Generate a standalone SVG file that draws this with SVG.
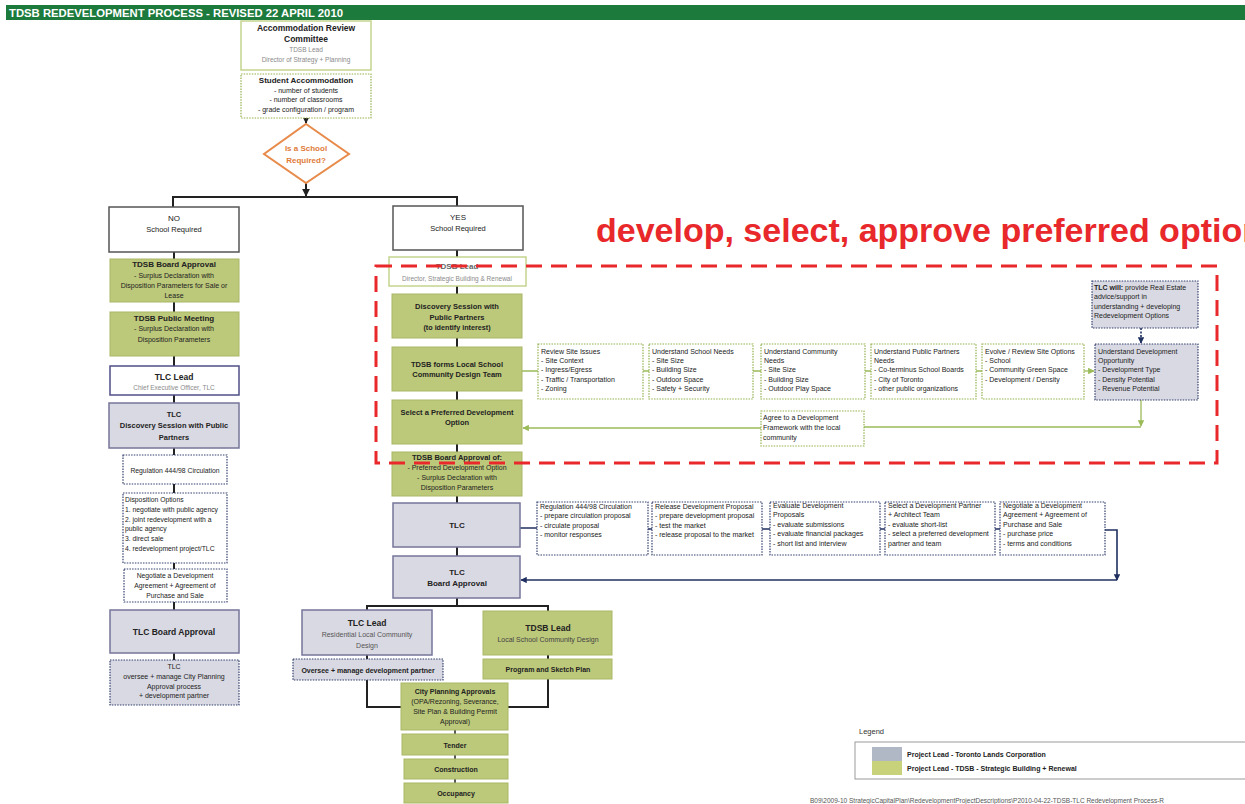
<svg xmlns="http://www.w3.org/2000/svg" width="1245" height="804" viewBox="0 0 1245 804">
<defs>
<style>
text{font-family:"Liberation Sans",Arial,sans-serif;fill:#222;font-size:7px}
.c{text-anchor:middle}
.b{font-weight:bold}
.g{fill:#8a8a8a}
.s8{font-size:8px}
.s85{font-size:8.5px}
.s65{font-size:6.5px}
.gf{fill:#bcc87a;stroke:#a9b866;stroke-width:1}
.gw{fill:#fff;stroke:#c3d58f;stroke-width:1.5}
.gd{fill:#fff;stroke:#93b14c;stroke-width:1.2;stroke-dasharray:1.5 1.2}
.tf{fill:#d9d9e3;stroke:#76769a;stroke-width:1.5}
.tw{fill:#fff;stroke:#4f4f88;stroke-width:1.5}
.td{fill:#fff;stroke:#34406e;stroke-width:1.2;stroke-dasharray:1.5 1.2}
.tdf{fill:#d9d9e3;stroke:#34406e;stroke-width:1.2;stroke-dasharray:1.5 1.2}
.wb{fill:#fff;stroke:#555;stroke-width:1.5}
.k{fill:none;stroke:#222;stroke-width:2}
.gl{fill:none;stroke:#9bbb59;stroke-width:1.3}
.bl{fill:none;stroke:#1f2f5f;stroke-width:1.6}
</style>
<marker id="ak" viewBox="0 0 10 10" refX="9" refY="5" markerWidth="4" markerHeight="4" orient="auto"><path d="M0,0L10,5L0,10z" fill="#222"/></marker>
<marker id="ag" viewBox="0 0 10 10" refX="9" refY="5" markerWidth="5" markerHeight="5" orient="auto"><path d="M0,0L10,5L0,10z" fill="#9bbb59"/></marker>
<marker id="ab" viewBox="0 0 10 10" refX="9" refY="5" markerWidth="4" markerHeight="4" orient="auto"><path d="M0,0L10,5L0,10z" fill="#1f2f5f"/></marker>
</defs>
<rect width="1245" height="804" fill="#fff"/>
<g id="title">
<rect x="6" y="5" width="1239" height="15" fill="#1d7a3d"/>
<text x="9" y="17" class="b" style="font-size:11.3px;fill:#fff">TDSB REDEVELOPMENT PROCESS - REVISED 22 APRIL 2010</text>
</g>
<g id="connectors">
<path class="k" d="M306,118V123" marker-end="url(#ak)"/>
<path class="k" d="M306,183V196" marker-end="url(#ak)"/>
<path class="k" d="M173,207V197H457V206"/>
<path class="k" d="M174,252V259M174,302V312M174,356V366M174,395V403M174,448V455M174,484V493M174,563V569M174,602V610M174,653V660"/>
<path class="k" d="M457,250V257M457,286V294M457,338V347M457,391V400M457,444V452M457,496V503M457,547V556M457,598V606M367,610V606H548V611"/>
<path class="k" d="M367,655V659M548,655V659M367,680V707H401M548,679V707H508"/>
<path class="k" d="M455,730V734M455,755V759M455,779V783" style="stroke-width:1.5"/>
<path class="gl" d="M522,371H538M643,371H649M753,371H761M865,371H871M976,371H982"/>
<path class="gl" d="M1084,371H1094" marker-end="url(#ag)"/>
<path class="gl" d="M1141,400V426" marker-end="url(#ag)"/>
<path class="gl" d="M864,427H1141"/>
<path class="gl" d="M761,428H523" marker-end="url(#ag)"/>
<path class="bl" d="M1141,328V343" style="stroke-dasharray:2 1.5" marker-end="url(#ab)"/>
<path class="bl" d="M520,528H537M648,529H652M762,529H770M880,529H885M995,529H1000"/>
<path class="bl" d="M1105,530H1117V580" marker-end="url(#ab)"/>
<path class="bl" d="M1117,580H521" marker-end="url(#ab)"/>
</g>
<g id="n_arc"><rect class="gw" x="241" y="21" width="130" height="49"/>
<text class="c b s85" x="306" y="31">Accommodation Review</text><text class="c b s85" x="306" y="42">Committee</text>
<text class="c g s65" x="306" y="52">TDSB Lead</text><text class="c g s65" x="306" y="62">Director of Strategy + Planning</text></g>
<g id="n_student"><rect class="gd" x="241" y="74" width="130" height="44"/>
<text class="c b s8" x="306" y="83">Student Accommodation</text><text class="c" x="306" y="92.5">- number of students</text>
<text class="c" x="306" y="102">- number of classrooms</text><text class="c" x="306" y="111.5">- grade configuration / program</text></g>
<g id="n_decision"><polygon points="306,124 349,154 306,183 264,154" fill="#fff" stroke="#e88a4a" stroke-width="2"/>
<text class="c b s8" x="306" y="151" style="fill:#e07b39">Is a School</text><text class="c b s8" x="306" y="163" style="fill:#e07b39">Required?</text></g>
<g id="n_no"><rect class="wb" x="109" y="207" width="130" height="45"/>
<text class="c s8" x="174" y="221">NO</text><text class="c" x="174" y="232" style="font-size:7.5px">School Required</text></g>
<g id="n_tdsbba"><rect class="gf" x="110" y="259" width="129" height="43"/>
<text class="c b s8" x="174" y="267">TDSB Board Approval</text><text class="c" x="174" y="278">- Surplus Declaration with</text>
<text class="c" x="174" y="288">Disposition Parameters for Sale or</text><text class="c" x="174" y="298">Lease</text></g>
<g id="n_tdsbpm"><rect class="gf" x="110" y="312" width="129" height="44"/>
<text class="c b s8" x="174" y="321">TDSB Public Meeting</text><text class="c" x="174" y="331">- Surplus Declaration with</text>
<text class="c" x="174" y="342">Disposition Parameters</text></g>
<g id="n_tlclead"><rect class="tw" x="110" y="366" width="129" height="29"/>
<text class="c b s85" x="174" y="380">TLC Lead</text><text class="c g s65" x="174" y="390">Chief Executive Officer, TLC</text></g>
<g id="n_tlcdisc"><rect class="tf" x="109" y="403" width="130" height="45"/>
<text class="c b" x="174" y="417" style="font-size:7.5px">TLC</text><text class="c b" x="174" y="428" style="font-size:7.5px">Discovery Session with Public</text>
<text class="c b" x="174" y="440" style="font-size:7.5px">Partners</text></g>
<g id="n_reg1"><rect class="td" x="123" y="455" width="104" height="29"/>
<text class="c" x="175" y="473" style="font-size:6.8px">Regulation 444/98 Circulation</text></g>
<g id="n_disp"><rect class="td" x="123" y="493" width="104" height="70"/>
<text x="125" y="502" style="font-size:6.8px">Disposition Options</text><text x="125" y="512" style="font-size:6.8px">1. negotiate with public agency</text>
<text x="125" y="522" style="font-size:6.8px">2. joint redevelopment with a</text><text x="125" y="531" style="font-size:6.8px">public agency</text>
<text x="125" y="541" style="font-size:6.8px">3. direct sale</text><text x="125" y="551" style="font-size:6.8px">4. redevelopment project/TLC</text></g>
<g id="n_nego1"><rect class="td" x="124" y="569" width="103" height="33"/>
<text class="c" x="175" y="578" style="font-size:6.8px">Negotiate a Development</text><text class="c" x="175" y="588" style="font-size:6.8px">Agreement + Agreement of</text>
<text class="c" x="175" y="598" style="font-size:6.8px">Purchase and Sale</text></g>
<g id="n_tlcba1"><rect class="tf" x="110" y="610" width="129" height="43"/>
<text class="c b s85" x="174" y="635">TLC Board Approval</text></g>
<g id="n_tlcov"><rect class="tdf" x="110" y="660" width="129" height="45"/>
<text class="c" x="174" y="669">TLC</text><text class="c" x="174" y="679">oversee + manage City Planning</text>
<text class="c" x="174" y="689">Approval process</text><text class="c" x="174" y="698">+ development partner</text></g>
<g id="n_yes"><rect class="wb" x="393" y="206" width="130" height="44"/>
<text class="c s8" x="458" y="220">YES</text><text class="c" x="458" y="231" style="font-size:7.5px">School Required</text></g>
<g id="n_tdsblead"><rect class="gw" x="389" y="257" width="137" height="29"/>
<text class="c b s8" x="457" y="269" style="fill:#666">TDSB Lead</text><text class="c g s65" x="457" y="281">Director, Strategic Building &amp; Renewal</text></g>
<g id="n_disc2"><rect class="gf" x="392" y="294" width="130" height="44"/>
<text class="c b" x="457" y="309" style="font-size:7.5px">Discovery Session with</text><text class="c b" x="457" y="320" style="font-size:7.5px">Public Partners</text>
<text class="c b" x="457" y="330" style="font-size:7.2px">(to identify interest)</text></g>
<g id="n_forms"><rect class="gf" x="392" y="347" width="130" height="44"/>
<text class="c b" x="457" y="367" style="font-size:7.5px">TDSB forms Local School</text><text class="c b" x="457" y="377" style="font-size:7.5px">Community Design Team</text></g>
<g id="n_select"><rect class="gf" x="392" y="400" width="130" height="44"/>
<text class="c b" x="457" y="415" style="font-size:7.5px">Select a Preferred Development</text><text class="c b" x="457" y="425" style="font-size:7.5px">Option</text></g>
<g id="n_tdsbba2"><rect class="gf" x="392" y="452" width="130" height="44"/>
<text class="c b" x="457" y="460" style="font-size:7.5px">TDSB Board Approval of:</text><text class="c" x="457" y="470">- Preferred Development Option</text>
<text class="c" x="457" y="480">- Surplus Declaration with</text><text class="c" x="457" y="490">Disposition Parameters</text></g>
<g id="n_tlc2"><rect class="tf" x="393" y="503" width="127" height="44"/>
<text class="c b s8" x="457" y="528">TLC</text></g>
<g id="n_tlcba2"><rect class="tf" x="393" y="556" width="127" height="42"/>
<text class="c b s8" x="457" y="575">TLC</text><text class="c b s8" x="457" y="586">Board Approval</text></g>
<g id="n_site"><rect class="gd" x="538" y="344" width="105" height="55"/>
<text x="541" y="354">Review Site Issues</text><text x="541" y="363">- Site Context</text><text x="541" y="372">- Ingress/Egress</text>
<text x="541" y="382">- Traffic / Transportation</text><text x="541" y="391">-  Zoning</text></g>
<g id="n_school"><rect class="gd" x="649" y="344" width="104" height="55"/>
<text x="652" y="354">Understand School Needs</text><text x="652" y="363">- Site Size</text><text x="652" y="372">- Building Size</text>
<text x="652" y="382">- Outdoor Space</text><text x="652" y="391">- Safety + Security</text></g>
<g id="n_comm"><rect class="gd" x="761" y="344" width="104" height="55"/>
<text x="764" y="354">Understand Community</text><text x="764" y="363">Needs</text><text x="764" y="372">- Site Size</text>
<text x="764" y="382">- Building Size</text><text x="764" y="391">- Outdoor Play Space</text></g>
<g id="n_partners"><rect class="gd" x="871" y="344" width="105" height="55"/>
<text x="874" y="354">Understand Public Partners</text><text x="874" y="363">Needs</text><text x="874" y="372">- Co-terminus School Boards</text>
<text x="874" y="382">- City of Toronto</text><text x="874" y="391">- other public organizations</text></g>
<g id="n_evolve"><rect class="gd" x="982" y="344" width="102" height="55"/>
<text x="985" y="354">Evolve / Review Site Options</text><text x="985" y="363">- School</text><text x="985" y="372">- Community Green Space</text>
<text x="985" y="382">- Development / Density</text></g>
<g id="n_devopp"><rect class="tdf" x="1095" y="344" width="103" height="56"/>
<text x="1098" y="354">Understand Development</text><text x="1098" y="363">Opportunity</text><text x="1098" y="372">- Development Type</text>
<text x="1098" y="382">- Density Potential</text><text x="1098" y="391">- Revenue Potential</text></g>
<g id="n_tlcwill"><rect class="tdf" x="1092" y="281" width="106" height="47"/>
<text x="1094" y="290"><tspan class="b">TLC will:</tspan>  provide Real Estate</text><text x="1094" y="299">advice/support in</text>
<text x="1094" y="309">understanding + developing</text><text x="1094" y="318">Redevelopment Options</text></g>
<g id="n_agree"><rect class="gd" x="761" y="411" width="103" height="35"/>
<text x="763" y="420">Agree to a Development</text><text x="763" y="430">Framework with the local</text><text x="763" y="440">community</text></g>
<g id="n_reg2"><rect class="td" x="537" y="502" width="111" height="53"/>
<text x="540" y="509">Regulation 444/98 Circulation</text><text x="540" y="518">- prepare circulation proposal</text>
<text x="540" y="527.5">- circulate proposal</text><text x="540" y="537">- monitor responses</text></g>
<g id="n_release"><rect class="td" x="652" y="502" width="110" height="53"/>
<text x="655" y="509">Release Development Proposal</text><text x="655" y="518">- prepare development proposal</text>
<text x="655" y="527.5">- test the market</text><text x="655" y="537">- release proposal to the market</text></g>
<g id="n_eval"><rect class="td" x="770" y="502" width="110" height="53"/>
<text x="773" y="508">Evaluate Development</text><text x="773" y="517">Proposals</text><text x="773" y="527">- evaluate submissions</text>
<text x="773" y="536">- evaluate financial packages</text><text x="773" y="546">- short list and interview</text></g>
<g id="n_partner"><rect class="td" x="885" y="502" width="110" height="53"/>
<text x="888" y="508">Select a Development Partner</text><text x="888" y="517">+ Architect Team</text><text x="888" y="527">- evaluate short-list</text>
<text x="888" y="536">- select a preferred development</text><text x="888" y="546">partner and team</text></g>
<g id="n_nego2"><rect class="td" x="1000" y="502" width="105" height="53"/>
<text x="1003" y="508">Negotiate a Development</text><text x="1003" y="517">Agreement + Agreement of</text><text x="1003" y="527">Purchase and Sale</text>
<text x="1003" y="536">- purchase price</text><text x="1003" y="546">- terms and conditions</text></g>
<g id="n_tlclead2"><rect class="tf" x="302" y="610" width="130" height="45"/>
<text class="c b s85" x="367" y="626">TLC Lead</text><text class="c" x="367" y="637" style="fill:#555">Residential Local Community</text>
<text class="c" x="367" y="648" style="fill:#555">Design</text></g>
<g id="n_tdsblead2"><rect class="gf" x="483" y="611" width="129" height="44"/>
<text class="c b s85" x="548" y="631">TDSB Lead</text><text class="c" x="548" y="642" style="fill:#444">Local School Community Design</text></g>
<g id="n_oversee"><rect class="tdf" x="293" y="659" width="150" height="21"/>
<text class="c b" x="368" y="673">Oversee + manage development partner</text></g>
<g id="n_program"><rect class="gf" x="483" y="659" width="129" height="20"/>
<text class="c b" x="548" y="672">Program and Sketch Plan</text></g>
<g id="n_city"><rect class="gf" x="401" y="683" width="107" height="47"/>
<text class="c b" x="455" y="694">City Planning Approvals</text><text class="c" x="455" y="704">(OPA/Rezoning, Severance,</text>
<text class="c" x="455" y="714">Site Plan &amp; Building Permit</text><text class="c" x="455" y="724">Approval)</text></g>
<g id="n_tender"><rect class="gf" x="402" y="734" width="106" height="21"/><text class="c b" x="455" y="748">Tender</text></g>
<g id="n_construction"><rect class="gf" x="404" y="759" width="104" height="20"/><text class="c b" x="456" y="772">Construction</text></g>
<g id="n_occupancy"><rect class="gf" x="404" y="783" width="104" height="20"/><text class="c b" x="456" y="796">Occupancy</text></g>
<g id="highlight">
<rect x="376" y="266" width="841" height="197" fill="none" stroke="#e8282b" stroke-width="3" stroke-dasharray="16 9"/>
<text x="596" y="242" class="b" style="font-size:34px;fill:#e8282b">develop, select, approve preferred option</text>
</g>
<g id="legend">
<text x="859" y="734" style="font-size:7.5px;fill:#333">Legend</text>
<rect x="855" y="742" width="400" height="37" fill="#fff" stroke="#999" stroke-width="1"/>
<rect x="872" y="747" width="30" height="14" fill="#b0b8c6"/>
<rect x="872" y="761" width="30" height="14" fill="#c8d27a"/>
<text x="907" y="757" class="b">Project Lead - Toronto Lands Corporation</text>
<text x="907" y="771" class="b">Project Lead - TDSB - Strategic Building + Renewal</text>
</g>
<text x="810" y="803" style="font-size:6.5px;fill:#555">B09\2009-10 StrategicCapitalPlan\RedevelopmentProjectDescriptions\P2010-04-22-TDSB-TLC Redevelopment Process-R</text>
</svg>
